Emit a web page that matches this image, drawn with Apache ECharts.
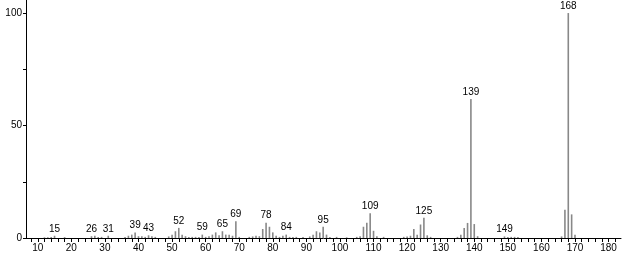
<!DOCTYPE html>
<html><head><meta charset="utf-8">
<script src="https://cdn.jsdelivr.net/npm/echarts@6/dist/echarts.min.js"></script>
<style>html,body{margin:0;padding:0;background:#fff}#c{width:623px;height:254px}</style>
</head><body><div id="c"></div>
<script>
const mz = [12,13,14,15,18,26,27,28,29,31,36,37,38,39,40,41,42,43,44,45,49,50,51,52,53,54,55,56,57,58,59,60,61,62,63,64,65,66,67,68,69,70,73,74,75,76,77,78,79,80,81,82,83,84,85,86,87,89,91,92,93,94,95,96,97,99,102,105,106,107,108,109,110,111,113,119,120,121,122,123,124,125,126,127,135,136,137,138,139,140,141,149,150,151,152,153,166,167,168,169,170];
const intensity = [0.3,0.3,0.5,1.0,0.4,0.8,1.0,0.5,0.5,1.0,0.5,1.0,1.5,2.5,0.8,0.8,0.5,1.2,0.8,0.5,0.7,1.5,3.0,4.5,1.5,0.8,0.5,0.5,0.5,0.5,1.5,0.5,0.8,1.5,2.5,1.2,3.0,1.5,1.5,1.0,7.5,0.5,0.5,0.7,1.0,0.8,4.0,6.8,5.0,2.5,1.0,0.5,1.0,1.5,0.5,0.5,0.5,0.5,0.7,1.5,3.0,2.5,5.0,1.5,0.5,0.5,0.3,0.5,0.8,5.0,6.8,11.0,3.2,0.8,0.5,0.5,0.7,1.0,4.0,1.5,6.0,9.0,1.2,0.5,0.5,1.5,4.5,6.7,61.8,6.2,0.8,0.7,0.5,0.5,0.5,0.5,0.7,12.6,100,10.5,1.5];
const labeledPeaks = [15,26,31,39,43,52,59,65,69,78,84,95,109,125,139,149,168];
const xTickLabels = [10,20,30,40,50,60,70,80,90,100,110,120,130,140,150,160,170,180];
const xTicks = [8,10,12,14,16,18,20,22,24,26,28,30,32,34,36,38,40,42,44,46,48,50,52,54,56,58,60,62,64,66,68,70,72,74,76,78,80,82,84,86,88,90,92,94,96,98,100,102,104,106,108,110,112,114,116,118,120,122,124,126,128,130,132,134,136,138,140,142,144,146,148,150,152,154,156,158,160,162,164,166,168,170,172,174,176,178,180,182];
const yTickLabels = [0,50,100];
const yTicks = [0,25,50,75,100];

const font = 'Liberation Sans';
const data = mz.map((m,i)=>{
  const d = {value:[m,intensity[i]]};
  if (labeledPeaks.includes(m)) d.label = {show:true};
  return d;
});
const chart = echarts.init(document.getElementById('c'));
chart.setOption({
  animation:false,
  grid:{left:26,right:2,top:0,bottom:16,containLabel:false},
  xAxis:{type:'value',min:6.5,max:183.7,
    axisLine:{onZero:false,lineStyle:{color:'#000',width:1}},
    axisTick:{customValues:xTicks,length:4,inside:false,lineStyle:{color:'#000'}},
    axisLabel:{customValues:xTickLabels,color:'#000',fontFamily:font,fontSize:10,margin:5},
    splitLine:{show:false}},
  yAxis:{type:'value',min:0,max:105.8,
    axisLine:{show:true,lineStyle:{color:'#000',width:1}},
    axisTick:{show:true,customValues:yTicks,length:3,lineStyle:{color:'#000'}},
    axisLabel:{customValues:yTickLabels,color:'#000',fontFamily:font,fontSize:10,margin:4},
    splitLine:{show:false}},
  series:[{type:'bar',data:data,barWidth:1.6,itemStyle:{color:'#888'},
    label:{show:false,position:'top',distance:2,color:'#000',fontFamily:font,fontSize:10,
      formatter:p=>String(p.value[0])}}]
});
</script></body></html>
